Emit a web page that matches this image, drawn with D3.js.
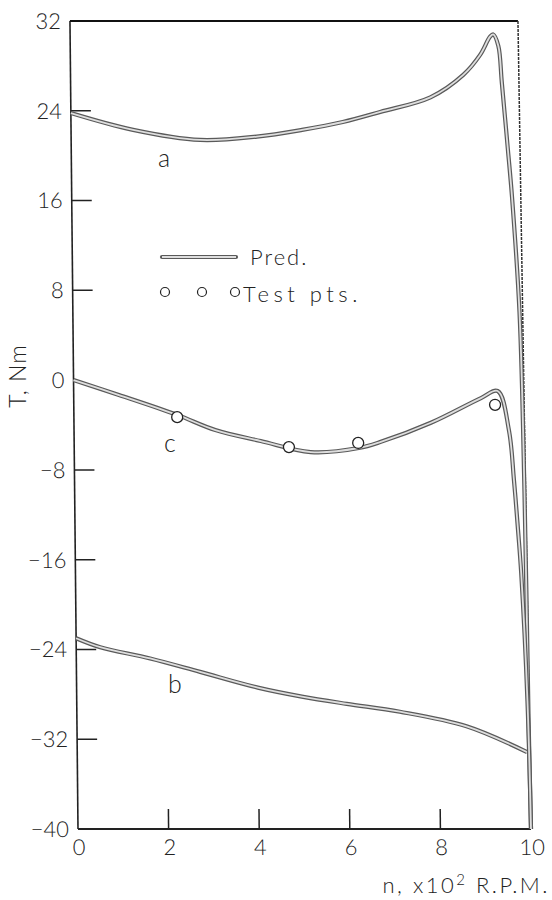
<!DOCTYPE html>
<html>
<head>
<meta charset="utf-8">
<script src="https://cdn.jsdelivr.net/npm/d3@7"></script>
<style>
  body { margin: 0; background: #fff; }
  text { font-family: "Lato", "Liberation Sans", sans-serif; font-weight: 300; fill: #222; }
</style>
</head>
<body>
<script>
// Torque / speed curves a, b, c and test points
var speedA  = [0, 1.37, 2.85, 4.1, 5.1, 6.0, 6.83, 7.94, 8.67, 9.05, 9.27, 9.34, 9.45, 9.52, 9.64, 9.72, 9.86, 9.93, 9.97, 10];
var torqueA = [23.8, 22.3, 21.4, 21.7, 22.3, 23.0, 23.9, 25.2, 27.2, 29.0, 30.6, 30.8, 29.8, 26.5, 20.5, 16.3, 6, -10, -30, -40];

var speedB  = [0, 0.53, 1.63, 2.73, 4.0, 4.97, 5.96, 7.13, 8.6, 9.93];
var torqueB = [-23.0, -23.8, -24.8, -26.0, -27.4, -28.2, -28.85, -29.55, -30.85, -33.15];

var speedC  = [0, 1.0, 2.28, 3.12, 4.12, 5.22, 6.28, 6.77, 7.88, 8.99, 9.36, 9.6, 9.7, 9.78, 9.84, 9.95, 10];
var torqueC = [0, -1.33, -3.1, -4.45, -5.43, -6.41, -6.05, -5.5, -3.8, -1.6, -0.97, -4.45, -8.9, -13.4, -17.2, -28.6, -40];

var testSpeed  = [2.28, 4.74, 6.27, 9.3];
var testTorque = [-3.3, -5.97, -5.6, -2.2];

var yTicks = [32, 24, 16, 8, 0, -8, -16, -24, -32, -40];
var yInner = [24, 16, 8, -8, -16, -24, -32];
var xTicks = [0, 2, 4, 6, 8, 10];
var xInner = [2, 4, 6, 8];

var svg = d3.select("body")
  .append("svg")
  .attr("width", 552)
  .attr("height", 900);

var x = d3.scaleLinear().domain([0, 10]).range([78, 531]);
var y = d3.scaleLinear().domain([-40, 32]).range([829, 21]);

// the printed figure leans a little, so the whole plot is skewed about its bottom edge
var plot = svg.append("g")
  .attr("transform", "translate(0,829) skewX(0.57) translate(0,-829)");

// frame
plot.append("line").attr("x1", x(0)).attr("x2", x(0)).attr("y1", y(32)).attr("y2", y(-40))
  .attr("stroke", "#222").attr("stroke-width", 1.6);
plot.append("line").attr("x1", x(0)).attr("x2", x(10)).attr("y1", y(-40)).attr("y2", y(-40))
  .attr("stroke", "#222").attr("stroke-width", 2);
plot.append("line").attr("x1", x(0)).attr("x2", x(10) - 5).attr("y1", y(32)).attr("y2", y(32))
  .attr("stroke", "#111").attr("stroke-width", 2.2);
plot.append("line").attr("x1", x(10) - 5).attr("x2", x(10)).attr("y1", y(32)).attr("y2", y(-40))
  .attr("stroke", "#333").attr("stroke-width", 1.5).attr("stroke-dasharray", "3,1");

// ticks (inward)
plot.selectAll(".ytick").data(yInner).enter().append("line")
  .attr("x1", x(0)).attr("x2", x(0) + 20)
  .attr("y1", d => y(d)).attr("y2", d => y(d))
  .attr("stroke", "#222").attr("stroke-width", 1.5);
plot.selectAll(".xtick").data(xInner).enter().append("line")
  .attr("x1", d => x(d)).attr("x2", d => x(d))
  .attr("y1", y(-40)).attr("y2", y(-40) - 20)
  .attr("stroke", "#222").attr("stroke-width", 1.5);

plot.selectAll(".ylab").data(yTicks).enter().append("text")
  .attr("x", x(0) - 9).attr("y", d => y(d)).attr("dy", "0.36em")
  .attr("text-anchor", "end").attr("font-size", 22)
  .text(d => d < 0 ? "\u2212" + Math.abs(d) : d);
plot.selectAll(".xlab").data(xTicks).enter().append("text")
  .attr("x", d => x(d) + 1).attr("y", 855)
  .attr("text-anchor", "middle").attr("font-size", 22)
  .text(d => d);

// curves drawn as a hollow double line
var line = d3.line().x(d => x(d[0])).y(d => y(d[1])).curve(d3.curveCatmullRom.alpha(0.5));

function drawCurve(speed, torque) {
  let pts = speed.map((s, i) => [s, torque[i]]);
  plot.append("path").attr("d", line(pts)).attr("fill", "none")
    .attr("stroke", "#5a5a5a").attr("stroke-width", 4.2).attr("stroke-linejoin", "round");
  plot.append("path").attr("d", line(pts)).attr("fill", "none")
    .attr("stroke", "#dedede").attr("stroke-width", 1.8).attr("stroke-linejoin", "round");
}
drawCurve(speedA, torqueA);
drawCurve(speedB, torqueB);
drawCurve(speedC, torqueC);

plot.selectAll(".pt").data(testSpeed).enter().append("circle")
  .attr("cx", d => x(d)).attr("cy", (d, i) => y(testTorque[i])).attr("r", 5.5)
  .attr("fill", "#fff").attr("stroke", "#222").attr("stroke-width", 1.3);

// curve letters
svg.append("text").attr("x", 164).attr("y", 167).attr("text-anchor", "middle").attr("font-size", 25).text("a");
svg.append("text").attr("x", 170).attr("y", 452).attr("text-anchor", "middle").attr("font-size", 25).text("c");
svg.append("text").attr("x", 175).attr("y", 693).attr("text-anchor", "middle").attr("font-size", 25).text("b");

// legend
svg.append("line").attr("x1", 162).attr("x2", 236).attr("y1", 257).attr("y2", 257)
  .attr("stroke", "#5a5a5a").attr("stroke-width", 4.2).attr("stroke-linecap", "round");
svg.append("line").attr("x1", 162).attr("x2", 236).attr("y1", 257).attr("y2", 257)
  .attr("stroke", "#dedede").attr("stroke-width", 1.8);
svg.append("text").attr("x", 250).attr("y", 265).attr("font-size", 22).attr("letter-spacing", 2).text("Pred.");
svg.selectAll(".lg").data([165, 202, 235]).enter().append("circle")
  .attr("cx", d => d).attr("cy", 292).attr("r", 4.5)
  .attr("fill", "none").attr("stroke", "#222").attr("stroke-width", 1.2);
svg.append("text").attr("x", 243).attr("y", 302).attr("font-size", 22).attr("letter-spacing", 4.5).text("Test pts.");

// axis titles
svg.append("text").attr("transform", "translate(26,376) rotate(-90)")
  .attr("text-anchor", "middle").attr("font-size", 23).attr("letter-spacing", 1).text("T, Nm");

var xt = svg.append("text").attr("x", 550).attr("y", 893).attr("text-anchor", "end")
  .attr("font-size", 22).attr("letter-spacing", 2.5);
xt.append("tspan").text("n, x10");
xt.append("tspan").attr("dy", -8).attr("font-size", 15).text("2");
xt.append("tspan").attr("dy", 8).text(" R.P.M.");
</script>
</body>
</html>
